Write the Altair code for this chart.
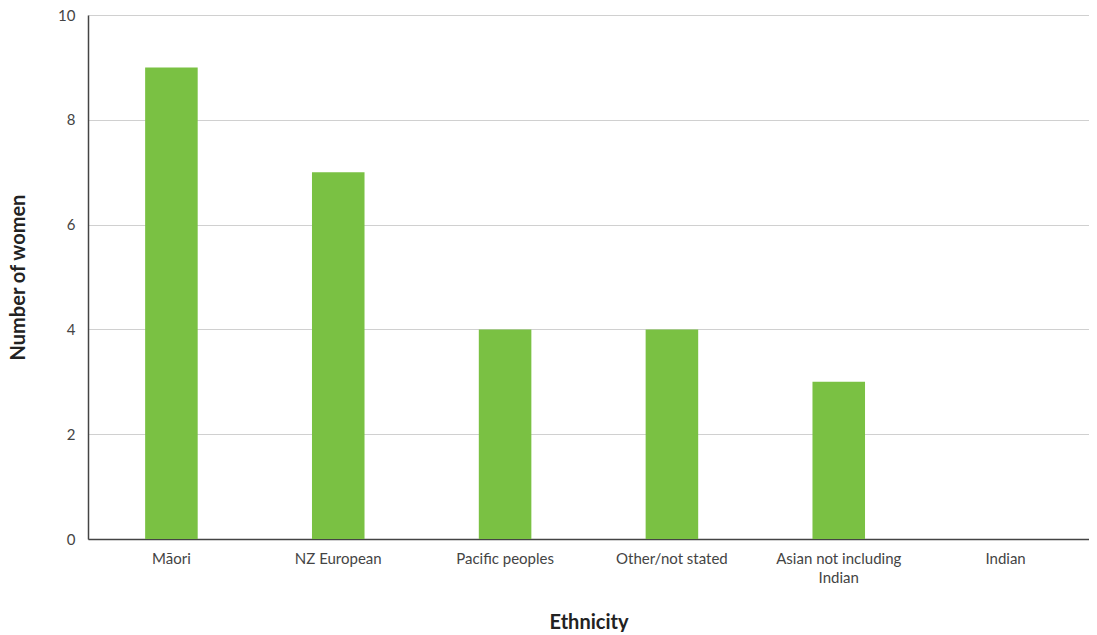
import altair as alt
import pandas as pd

categories = ["Māori", "NZ European", "Pacific peoples", "Other/not stated", "Asian not including Indian", "Indian"]
values = [9, 7, 4, 4, 3, 0]

df = pd.DataFrame({"Ethnicity": categories, "Number of women": values})

FONT = "Lato"

chart = alt.Chart(df).mark_bar(color="#7AC143").encode(
    x=alt.X("Ethnicity:N", sort=categories,
            scale=alt.Scale(paddingInner=0.685, paddingOuter=0.3425),
            axis=alt.Axis(title="Ethnicity", labelAngle=0, ticks=False,
                          labelPadding=12, titlePadding=27, labelFontSize=15,
                          titleFontSize=20, domainColor="#444", domainWidth=1.5,
                          labelExpr="datum.value == 'Asian not including Indian' ? ['Asian not including', 'Indian'] : datum.value")),
    y=alt.Y("Number of women:Q", scale=alt.Scale(domain=[0, 10]),
            axis=alt.Axis(title="Number of women", values=[0, 2, 4, 6, 8, 10], ticks=False,
                          labelPadding=13, titlePadding=29, labelFontSize=15,
                          titleFontSize=20, domainColor="#444", domainWidth=1.5,
                          gridColor="#d0d0d0", gridWidth=1)),
).properties(
    width=1001, height=524,
    autosize=alt.AutoSizeParams(type="none"),
    padding={"left": 80, "top": 7, "right": 0, "bottom": 93},
).configure_axis(
    labelFont=FONT, titleFont=FONT, labelColor="#444", titleColor="#222",
    titleFontWeight="bold", labelLineHeight=19,
).configure_axisX(grid=False).configure_view(stroke=None)

chart.save("out.html", embed_options={"renderer": "svg", "actions": False})
